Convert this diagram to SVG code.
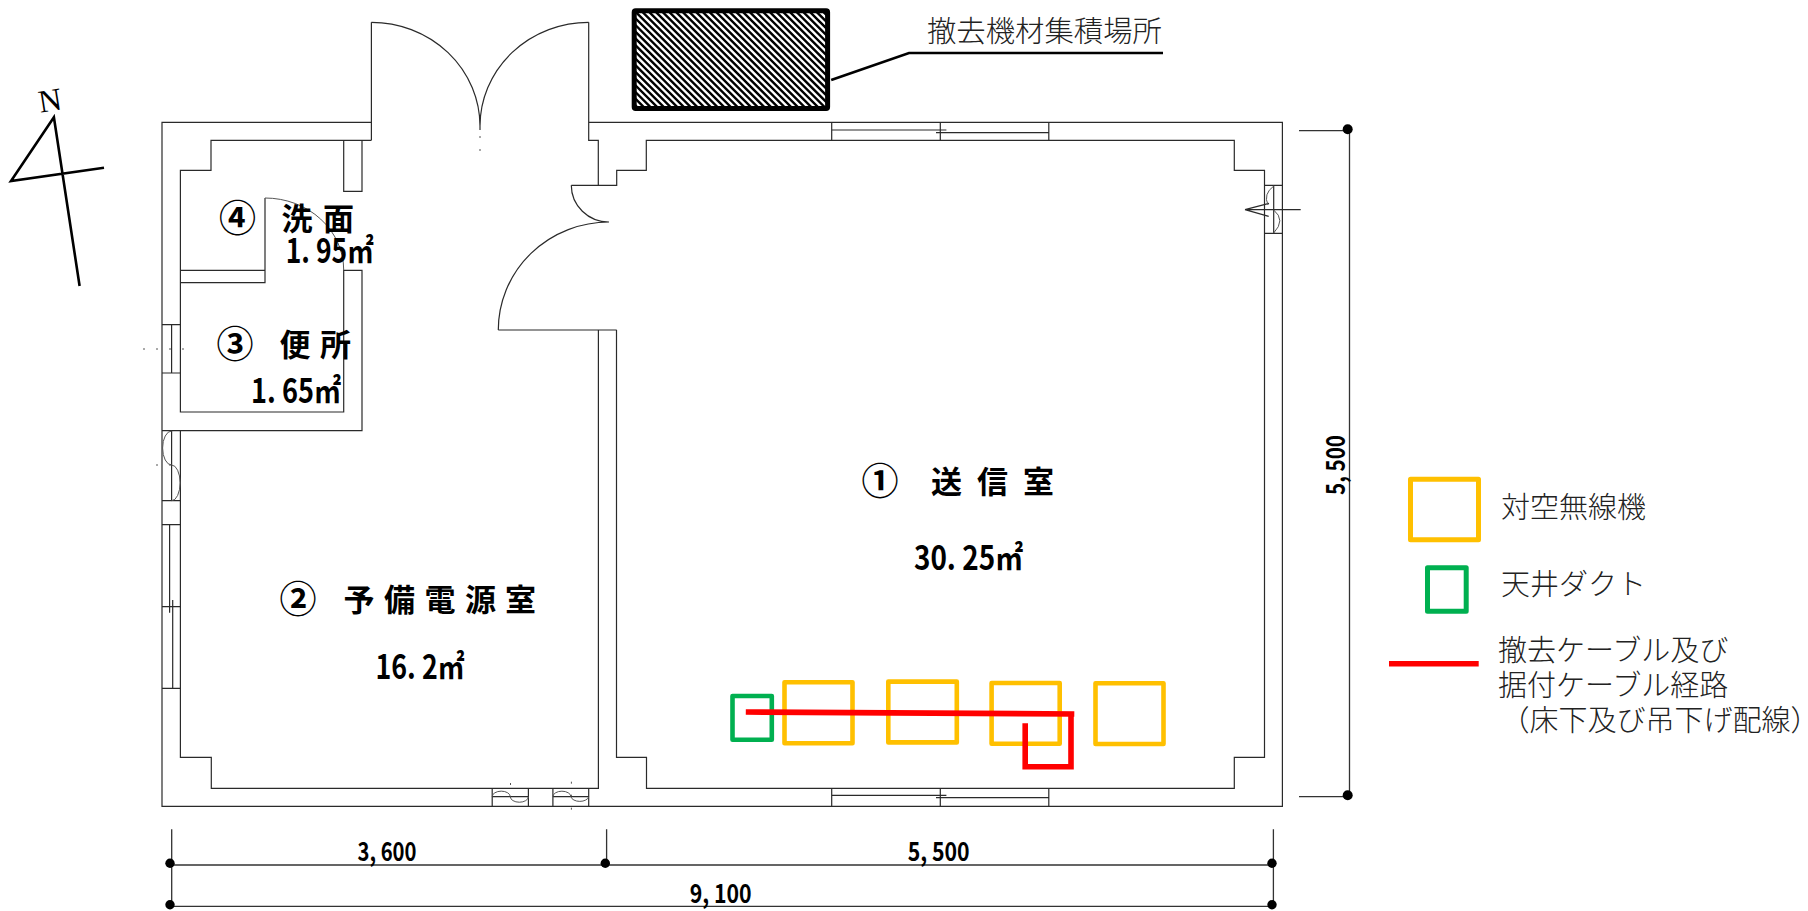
<svg xmlns="http://www.w3.org/2000/svg" width="1808" height="911" viewBox="0 0 1808 911">
<style>
.w{fill:none;stroke:#2a2a2a;stroke-width:1.2}
.t{fill:none;stroke:#555;stroke-width:1}
.d{fill:none;stroke:#555;stroke-width:1;stroke-dasharray:2 11}
.dim{fill:none;stroke:#333;stroke-width:1.3}
.dot{fill:#000}
.n{fill:none;stroke:#000;stroke-width:2.6;stroke-linejoin:miter}
.or{fill:none;stroke:#ffc000;stroke-width:4.6;stroke-linejoin:round}
.gr{fill:none;stroke:#00b050;stroke-width:4.6;stroke-linejoin:round}
.rd{fill:none;stroke:#ff0000;stroke-width:5.6;stroke-linejoin:miter}
.b{font-family:"Noto Sans CJK JP","Liberation Sans",sans-serif;font-weight:700;fill:#000}
.m{font-family:"Noto Sans CJK JP","Liberation Sans",sans-serif;font-weight:300;font-size:29px;fill:#222}
.num{font-size:26px}
.big{font-size:33px}
.lab{font-size:31px}
.cn{font-size:37px}
</style>
<defs>
<clipPath id="hatch-clip"><rect x="634.2" y="10.8" width="193.4" height="97.7"/></clipPath>
</defs>
<rect width="1808" height="911" fill="#fff"/>

<g id="building">
<path class="w" d="M371.4 140.3V22.3M588.7 22.3V140.3H598.3V185.3H616.7V170.3H646.3V140.3H1234.3V170.3H1264.5V757.3H1234.3V788.3H646.5V757.3H616.5V330M598.4 330V788.3H211.3V757.3H180.4V430.7M162 430.7H362V270.3H343.7V412H180.4V170.3H211V140.3H371.4M371.4 122.3H162V806.4H1282.4V122.3H588.7"/>
<path class="w" d="M343.7 140.3V191.3H362V140.3M180.4 270.3H265V198M180.4 282.7H265V270.3M571.3 185.3H598.3M498.3 330H616.7"/>
<path class="w" d="M371.4 22.3A108.6 104 0 0 1 480 126M588.7 22.3A108.7 104 0 0 0 480 126M480 126V130M571.3 185.3A37.7 36.7 0 0 0 609 222M498.3 330A110.7 108 0 0 1 609 222"/>
<path class="t" d="M265 198A78.7 72 0 0 1 343.7 270"/>
<path class="d" d="M480 136V152M143 349H192M156 465H182M510.5 783V808M571.4 781.7V818"/>
</g>

<g id="windows">
<path class="w" d="M162 324.7H180.4M162 373H180.4M171.6 324.7V373"/>
<path class="w" d="M162 500.7H180.4M171.6 430.7V500.7"/>
<path class="t" d="M171.6 431A9 17 0 0 0 171.6 465A8.5 17.8 0 0 1 171.6 500.7"/>
<path class="w" d="M162 524.7H180.4M162 606.7H180.4M162 688.3H180.4M169.6 524.7V612.7M172.7 600V688.3"/>
<path class="w" d="M492.2 788.3V806.4M528.4 788.3V806.4M552.9 788.3V806.4M588.7 788.3V806.4M492.2 796.7H528.4M552.9 796.7H588.7"/>
<path class="t" d="M492.2 796.7A9 5.5 0 0 1 510.3 796.7A9 5.5 0 0 0 528.4 796.7M552.9 796.7A9 5.5 0 0 1 570.9 796.7A9 5.5 0 0 0 588.7 796.7"/>
<path class="w" d="M831.7 122.3V140.3M940.3 122.3V140.3M1048.8 122.3V140.3M831.7 130H946.4M936 132.7H1048.8"/>
<path class="w" d="M831.7 788.3V806.4M940.3 788.3V806.4M1048.8 788.3V806.4M831.7 795.3H946.4M936 797.7H1048.8"/>
<path class="w" d="M1264.5 185.3H1282.4M1264.5 233.3H1282.4M1273.7 185.3V233.3M1245 209.7H1300.7M1245 209.7L1269 203.3M1245 209.7L1268.7 216.3"/>
<path class="t" d="M1273.7 186Q1263 194 1268 205M1273.7 210Q1286 220 1273.7 233"/>
</g>

<g id="north-arrow">
<path class="n" d="M104 167.7L11 181L53.9 117.3L79.6 286"/>
<text x="50" y="111" font-family="Liberation Serif,serif" font-size="32" text-anchor="middle" transform="rotate(-9 50 100)">N</text>
</g>

<g id="storage-area">
<g clip-path="url(#hatch-clip)">
<path fill="none" stroke="#000" stroke-width="2.4" d="M538 8l104 104m-97.3-104l104 104m-97.3-104l104 104m-97.3-104l104 104m-97.3-104l104 104m-97.3-104l104 104m-97.3-104l104 104m-97.3-104l104 104m-97.3-104l104 104m-97.3-104l104 104m-97.3-104l104 104m-97.3-104l104 104m-97.3-104l104 104m-97.3-104l104 104m-97.3-104l104 104m-97.3-104l104 104m-97.3-104l104 104m-97.3-104l104 104m-97.3-104l104 104m-97.3-104l104 104m-97.3-104l104 104m-97.3-104l104 104m-97.3-104l104 104m-97.3-104l104 104m-97.3-104l104 104m-97.3-104l104 104m-97.3-104l104 104m-97.3-104l104 104m-97.3-104l104 104m-97.3-104l104 104m-97.3-104l104 104m-97.3-104l104 104m-97.3-104l104 104m-97.3-104l104 104m-97.3-104l104 104m-97.3-104l104 104m-97.3-104l104 104m-97.3-104l104 104m-97.3-104l104 104m-97.3-104l104 104m-97.3-104l104 104m-97.3-104l104 104m-97.3-104l104 104"/>
</g>
<rect x="634.2" y="10.8" width="193.4" height="97.7" rx="1.5" fill="none" stroke="#000" stroke-width="5"/>
<path fill="none" stroke="#000" stroke-width="2.6" d="M831.2 80L909 53H1163"/>
<text class="m" x="927" y="41.5" textLength="235" lengthAdjust="spacingAndGlyphs">撤去機材集積場所</text>
</g>

<g id="room-1">
<text class="b cn" x="861.5" y="495">①</text>
<text class="b lab" x="931 977 1023" y="493">送信室</text>
<text class="b big" x="914" y="569.6" textLength="109" lengthAdjust="spacingAndGlyphs">30. 25㎡</text>
</g>
<g id="room-2">
<text class="b cn" x="279.5" y="613">②</text>
<text class="b lab" x="343.5 384 424.5 465 505" y="611">予備電源室</text>
<text class="b big" x="375.5" y="679.3" textLength="89" lengthAdjust="spacingAndGlyphs">16. 2㎡</text>
</g>
<g id="room-3">
<text class="b cn" x="216.5" y="357.5">③</text>
<text class="b lab" x="279.5 320" y="356">便所</text>
<text class="b big" x="251" y="402.7" textLength="90" lengthAdjust="spacingAndGlyphs">1. 65㎡</text>
</g>
<g id="room-4">
<text class="b cn" x="219" y="232">④</text>
<text class="b lab" x="281.5 323" y="230">洗面</text>
<text class="b big" x="285.7" y="262.7" textLength="88" lengthAdjust="spacingAndGlyphs">1. 95㎡</text>
</g>

<g id="equipment">
<rect class="or" x="784.5" y="682.3" width="68" height="61"/>
<rect class="or" x="888.3" y="681.6" width="68.5" height="60.8"/>
<rect class="or" x="991.6" y="683" width="68.1" height="60.7"/>
<rect class="or" x="1095.5" y="683.3" width="68" height="60.7"/>
<rect class="gr" x="732.5" y="696" width="39.3" height="43.8"/>
</g>
<g id="connectors">
<path class="rd" d="M745.8 712L1074.3 714M1071 714V766.7H1025.2V723.3"/>
</g>

<g id="dimensions">
<path class="dim" d="M171.7 829.3V906.7M606.6 829.3V865M1273.4 829.3V906.7M171 865H1273M171 906.3H1273M1349.5 130V796.7M1299 130.7H1347M1299 796.7H1347"/>
<circle class="dot" cx="170" cy="863.3" r="4.7"/><circle class="dot" cx="170" cy="904.7" r="4.7"/>
<circle class="dot" cx="605.3" cy="863.3" r="4.7"/><circle class="dot" cx="1272" cy="863.3" r="4.7"/><circle class="dot" cx="1272" cy="904.7" r="4.7"/>
<circle class="dot" cx="1347.7" cy="129.3" r="5"/><circle class="dot" cx="1347.7" cy="795.3" r="5"/>
<text class="b num" x="357.5" y="860.7" textLength="59" lengthAdjust="spacingAndGlyphs">3, 600</text>
<text class="b num" x="907.7" y="860.7" textLength="62" lengthAdjust="spacingAndGlyphs">5, 500</text>
<text class="b num" x="689.7" y="902.7" textLength="62" lengthAdjust="spacingAndGlyphs">9, 100</text>
<text class="b num" transform="translate(1345 495) rotate(-90)" textLength="60" lengthAdjust="spacingAndGlyphs">5, 500</text>
</g>

<g id="legend">
<rect class="or" x="1410.5" y="479.2" width="68" height="60.6" style="stroke-width:5"/>
<text class="m" x="1501" y="518">対空無線機</text>
<rect class="gr" x="1427.5" y="567.8" width="38.7" height="43.4" style="stroke-width:5"/>
<text class="m" x="1501" y="595">天井ダクト</text>
<path class="rd" d="M1389 663.7H1478.7"/>
<text class="m" x="1498" y="661">撤去ケーブル及び</text>
<text class="m" x="1498" y="696">据付ケーブル経路</text>
<text class="m" x="1500.5" y="731">（床下及び吊下げ配線<tspan style="font-feature-settings:'halt'">）</tspan></text>
</g>
</svg>
